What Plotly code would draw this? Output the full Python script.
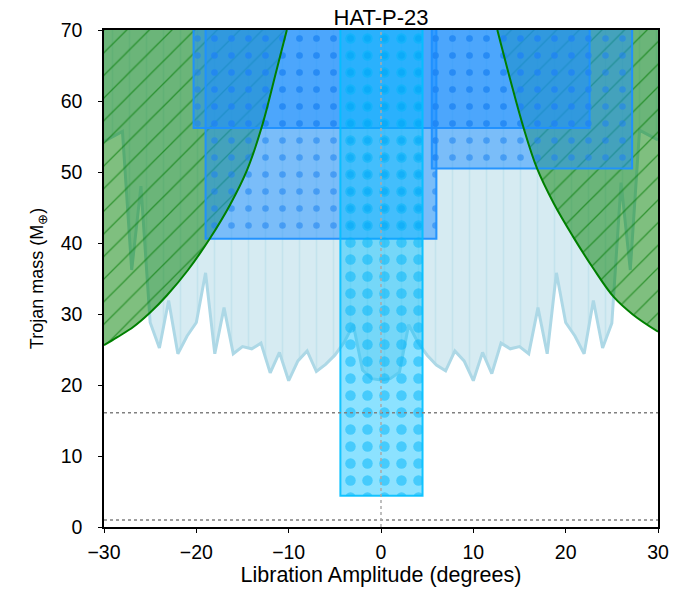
import plotly.graph_objects as go

# libration amplitude grid (degrees) and lower edge of the light blue region (M_earth)
amp = list(range(-30, 31))
mass_edge = [54.3, 55.0, 55.7, 36.2, 48.0, 28.8, 25.2, 31.9, 24.4, 26.9,
             28.8, 35.8, 24.4, 30.9, 24.4, 25.4, 25.1, 25.9, 21.7, 24.6,
             20.6, 23.4, 24.8, 21.9, 22.9, 24.2, 26.0, 28.5, 22.1, 20.9,
             20.7,
             20.9, 21.8, 28.5, 26.0, 24.2, 22.8, 22.0, 24.8, 23.4, 20.6,
             24.6, 21.6, 25.9, 25.1, 25.4, 24.4, 30.9, 24.4, 35.8, 28.8,
             26.9, 24.4, 31.9, 25.2, 28.7, 48.5, 36.2, 55.9, 55.2, 54.5]

# green stability boundary, left and right branches
left_amp = [-30.0, -28.6, -26.8, -25.0, -23.2, -20.9, -18.5, -16.3, -14.5, -12.9, -11.3, -10.2]
left_mass = [25.6, 26.7, 28.2, 30.2, 32.6, 36.2, 40.7, 45.5, 50.3, 56.4, 64.4, 70.0]
right_amp = [12.6, 14.0, 15.4, 16.9, 18.7, 20.8, 23.0, 25.2, 27.3, 30.0]
right_mass = [70.0, 63.0, 56.4, 50.5, 45.6, 40.9, 36.4, 32.4, 29.9, 27.5]

# excluded boxes (circle hatch)
box_left = [-20.3, -19.0, 5.5]
box_right = [22.6, 6.0, 27.2]
box_bottom = [56.2, 40.6, 50.5]

# star box
star_left = -4.4
star_right = 4.5
star_bottom = 4.4

ref_masses = [16.1, 1.0]
y_top = 80

fig = go.Figure()

# light blue region above the jagged curve
fig.add_scatter(x=amp, y=[y_top] * len(amp), mode='lines', line=dict(width=0),
                hoverinfo='skip', showlegend=False)
fig.add_scatter(x=amp, y=mass_edge, mode='lines', fill='tonexty',
                fillpattern=dict(shape='|', size=17, solidity=0.1,
                                 fgcolor='rgba(173,216,230,0.45)',
                                 bgcolor='rgba(173,216,230,0.5)', fillmode='replace'),
                line=dict(color='rgba(173,216,230,1)', width=3), showlegend=False)

# green hatched regions (fill only, edges drawn later)
for xs, ys in [(left_amp, left_mass), (right_amp, right_mass)]:
    fig.add_scatter(x=xs, y=[y_top] * len(xs), mode='lines', line=dict(width=0),
                    hoverinfo='skip', showlegend=False)
    fig.add_scatter(x=xs, y=ys, mode='lines', fill='tonexty',
                    fillpattern=dict(shape='/', size=16, solidity=0.08,
                                     fgcolor='rgba(0,120,0,0.6)',
                                     bgcolor='rgba(0,128,0,0.5)', fillmode='replace'),
                    line=dict(width=0, shape='spline'), showlegend=False)

# circle hatched boxes
for l, r, b in zip(box_left, box_right, box_bottom):
    fig.add_scatter(x=[l, l, r, r, l], y=[y_top, b, b, y_top, y_top], mode='lines',
                    fill='toself',
                    fillpattern=dict(shape='.', size=17, solidity=0.12,
                                     fgcolor='rgba(30,130,240,0.55)',
                                     bgcolor='rgba(30,144,255,0.5)', fillmode='replace'),
                    line=dict(color='rgba(30,144,255,0.95)', width=2), showlegend=False)

# star box
fig.add_scatter(x=[star_left, star_left, star_right, star_right, star_left],
                y=[y_top, star_bottom, star_bottom, y_top, y_top], mode='lines',
                fill='toself',
                fillpattern=dict(shape='.', size=17, solidity=0.3,
                                 fgcolor='rgba(0,180,250,0.5)',
                                 bgcolor='rgba(0,191,255,0.45)', fillmode='replace'),
                line=dict(color='rgba(0,191,255,0.9)', width=2), showlegend=False)

# green boundary lines
for xs, ys in [(left_amp, left_mass), (right_amp, right_mass)]:
    fig.add_scatter(x=xs, y=ys, mode='lines',
                    line=dict(color='green', width=2, shape='spline'), showlegend=False)

for m in ref_masses:
    fig.add_hline(y=m, line=dict(color='gray', width=1.5, dash='dot'))
fig.add_vline(x=0, line=dict(color='darkgray', width=1.5, dash='dot'))

axis_common = dict(showline=True, linecolor='black', linewidth=1.5, mirror=True,
                   ticks='outside', ticklen=4, tickcolor='black', showgrid=False,
                   zeroline=False, tickfont=dict(size=19.5, color='black'))

fig.update_layout(
    width=693, height=600,
    margin=dict(l=96, r=43, t=22, b=81),
    plot_bgcolor='white', paper_bgcolor='white',
    font=dict(family='Liberation Sans', color='black'),
    title=dict(text='HAT-P-23', x=0.5, xref='paper', xanchor='center',
               y=0.985, yref='container', yanchor='middle',
               font=dict(size=22, color='black')),
    xaxis=dict(range=[-30, 30], tickvals=[-30, -20, -10, 0, 10, 20, 30],
               title=dict(text='Libration Amplitude (degrees)', font=dict(size=21.5), standoff=4),
               ticklabelstandoff=3, **axis_common),
    yaxis=dict(range=[0, 70], tickvals=[0, 10, 20, 30, 40, 50, 60, 70],
               title=dict(text='Trojan mass (M<sub>⊕</sub>)', font=dict(size=18), standoff=12),
               ticklabelstandoff=12, **axis_common),
)

fig.write_html("out.html")
